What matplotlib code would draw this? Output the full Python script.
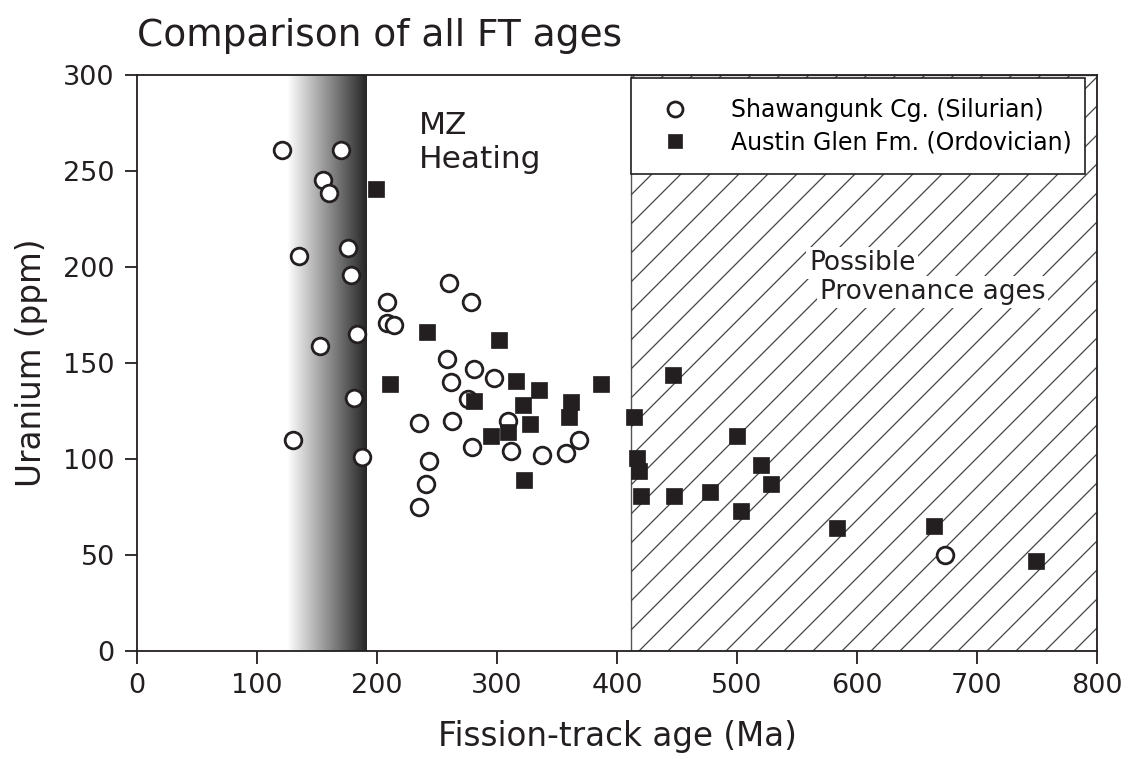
import numpy as np
import matplotlib.pyplot as plt
from matplotlib.patches import Rectangle

# Shawangunk Cg. (Silurian) - fission-track age (Ma), uranium (ppm)
shaw_age = [120.6, 170.3, 155.3, 160.3, 135, 175.6, 178.3, 208, 208, 214,
            152.5, 183, 180.8, 129.7, 187.8, 260, 278.3, 258, 280.8, 262,
            297.5, 276, 235, 262.5, 309.5, 311.5, 279, 243.5, 240.5, 235,
            337.5, 357.5, 368, 673.3]
shaw_u = [260.9, 260.9, 245.1, 238.7, 205.9, 210, 196, 182, 171, 169.8,
          158.9, 165, 132, 110, 100.9, 191.8, 182, 152, 147, 140,
          142, 131, 119, 120, 120, 104, 106, 99, 87, 75,
          102, 103, 110, 49.8]

# Austin Glen Fm. (Ordovician)
austin_age = [199, 241.7, 211, 302, 315.8, 335.3, 387, 280.8, 322, 361.4,
              360, 414.4, 446.7, 327.5, 309.4, 295.3, 322.5, 417, 418, 420,
              447.5, 500, 520, 528, 477.8, 503, 583.6, 664.4, 749]
austin_u = [240.8, 165.9, 138.9, 162, 140.8, 135.9, 138.9, 130, 128, 129.9,
            122, 121.9, 143.8, 118, 113.9, 112, 88.9, 100.7, 93.9, 80.9,
            80.9, 112, 96.9, 87, 82.8, 72.9, 63.9, 65, 46.9]

heat_span = (125, 191)      # MZ heating gradient
prov_span = (412, 800)      # possible provenance ages

ink = '#231f20'

fig = plt.figure(figsize=(11.33, 7.59), dpi=100)
ax = fig.add_axes([0.1209, 0.1423, 0.8473, 0.7589])
ax.set_xlim(0, 800)
ax.set_ylim(0, 300)

# grey gradient band
grad = np.linspace(0, 0.85, 256).reshape(1, -1)
ax.imshow(grad, cmap='gray_r', vmin=0, vmax=1, aspect='auto',
          extent=[heat_span[0], heat_span[1], 0, 300], zorder=1)

# hatched provenance region, drawn with wider spacing than mpl hatch
rect = Rectangle((prov_span[0], 0), prov_span[1] - prov_span[0], 300,
                 facecolor='none', edgecolor='#555555', lw=1.0, zorder=2)
ax.add_patch(rect)
xpx = 960.0
ypx = 576.0
for c in np.arange(-600, 1000, 29):
    xa = np.array([0, 1.0])
    ya = (xa * xpx - c) / ypx
    ln, = ax.plot(xa, ya, transform=ax.transAxes, color='#444444', lw=0.9, zorder=2)
    ln.set_clip_path(rect)

ax.plot(shaw_age, shaw_u, 'o', ms=12, mfc='white', mec=ink, mew=2.0,
        ls='none', zorder=5, label='Shawangunk Cg. (Silurian)')
ax.plot(austin_age, austin_u, 's', ms=11, mfc=ink, mec=ink, mew=0.5,
        ls='none', zorder=5, label='Austin Glen Fm. (Ordovician)')

ax.text(235, 281, 'MZ\nHeating', fontsize=22.5, va='top', ha='left',
        linespacing=1.2, color=ink, zorder=6)
ax.text(560, 202, 'Possible', fontsize=19, va='center', ha='left', color=ink,
        zorder=6, bbox=dict(facecolor='white', edgecolor='none', pad=2))
ax.text(569, 187, 'Provenance ages', fontsize=19, va='center', ha='left', color=ink,
        zorder=6, bbox=dict(facecolor='white', edgecolor='none', pad=2))

leg = ax.legend(loc='upper left', bbox_to_anchor=(0.5146, 0.83, 0.473, 0.165),
                mode='expand', borderaxespad=0, fontsize=17, frameon=True,
                fancybox=False, handletextpad=1.4, borderpad=0.85,
                labelspacing=0.35, markerscale=0.9, framealpha=1)
leg.get_frame().set_edgecolor(ink)
leg.get_frame().set_facecolor('white')
leg.get_frame().set_linewidth(1.2)
leg.set_zorder(7)

ax.set_xticks(np.arange(0, 801, 100))
ax.set_yticks(np.arange(0, 301, 50))
ax.tick_params(direction='out', length=9, width=1.3, labelsize=19.5, colors=ink, pad=7)
for s in ax.spines.values():
    s.set_linewidth(1.3)
    s.set_color(ink)

ax.set_xlabel('Fission-track age (Ma)', fontsize=23.5, color=ink, labelpad=15)
ax.set_ylabel('Uranium (ppm)', fontsize=23.5, color=ink, labelpad=11)
ax.set_title('Comparison of all FT ages', fontsize=27, loc='left', pad=21, color=ink)

plt.savefig('out.png', dpi=100)
